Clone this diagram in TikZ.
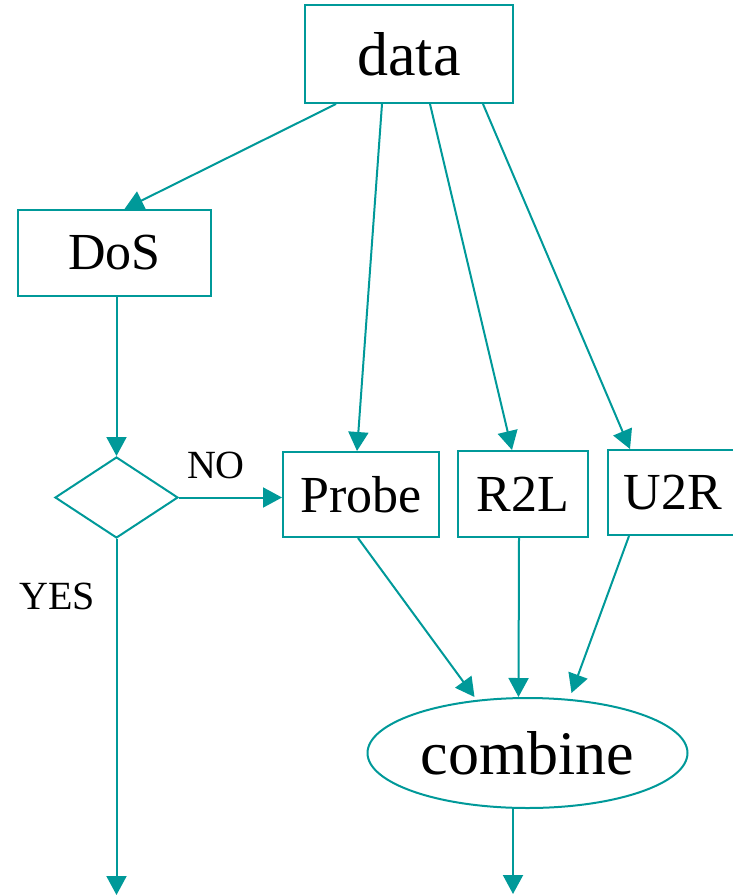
\documentclass[tikz,border=0pt]{standalone}
\usepackage{fontspec}
\setmainfont{Liberation Serif}
\usepackage{tikz}
\usetikzlibrary{arrows.meta,positioning,shapes.geometric}
\definecolor{flowteal}{RGB}{0,153,153}

\begin{document}
\begin{tikzpicture}[x=1pt, y=-1pt, line width=2pt, >={Triangle[length=19pt,width=20pt]},
  box/.style={draw=flowteal, line width=2pt, inner sep=0pt, font=\fontsize{52}{52}\selectfont},
  big/.style={font=\fontsize{62}{62}\selectfont},
  lbl/.style={font=\fontsize{40}{40}\selectfont, inner sep=0pt},
  arr/.style={->, draw=flowteal, fill=flowteal}]
\useasboundingbox (0,0) rectangle (732,896);
\node[box, big, minimum width=208pt, minimum height=98pt] (data) at (409,54) {data};
\node[box, minimum width=193pt, minimum height=86pt] (dos) at (114.5,253) {DoS};
\node[box, diamond, minimum width=123pt, minimum height=81pt, aspect=1.5] (dec) at (116.5,497.5) {};
\node[box, minimum width=156pt, minimum height=85pt] (probe) at (361,494.5) {Probe};
\node[box, minimum width=130pt, minimum height=86pt] (r2l) at (523,494) {R2L};
\node[box, minimum width=130pt, minimum height=85pt] (u2r) at (673,492.5) {U2R};
\node[box, big, ellipse, minimum width=320pt, minimum height=110pt] (comb) at (527.5,753) {combine};
\node[lbl] (no) at (216,465) {NO};
\node[lbl] (yes) at (57,596) {YES};
\coordinate (out1) at (116.5,895);
\coordinate (out2) at (513,894);
\draw[arr] ([xshift=-73pt]data.south) -- ([xshift=10pt]dos.north);
\draw[arr] ([xshift=-27pt]data.south) -- ([xshift=-4pt]probe.north);
\draw[arr] ([xshift=21pt]data.south) -- ([xshift=-11pt]r2l.north);
\draw[arr] ([xshift=74pt]data.south) -- ([xshift=-43pt]u2r.north);
\draw[arr] ([xshift=2pt]dos.south) -- (dec.north);
\draw[arr] (dec.east) -- (dec.east -| probe.west);
\draw[arr] (dec.south) -- (out1);
\draw[arr] ([xshift=-3pt]probe.south) -- ([xshift=-53pt]comb.north);
\draw[arr] ([xshift=-4pt]r2l.south) -- ([xshift=-9pt]comb.north);
\draw[arr] ([xshift=-44pt]u2r.south) -- ([xshift=44pt,yshift=4pt]comb.north);
\draw[arr] ([xshift=-14.5pt]comb.south) -- (out2);
\end{tikzpicture}
\end{document}
